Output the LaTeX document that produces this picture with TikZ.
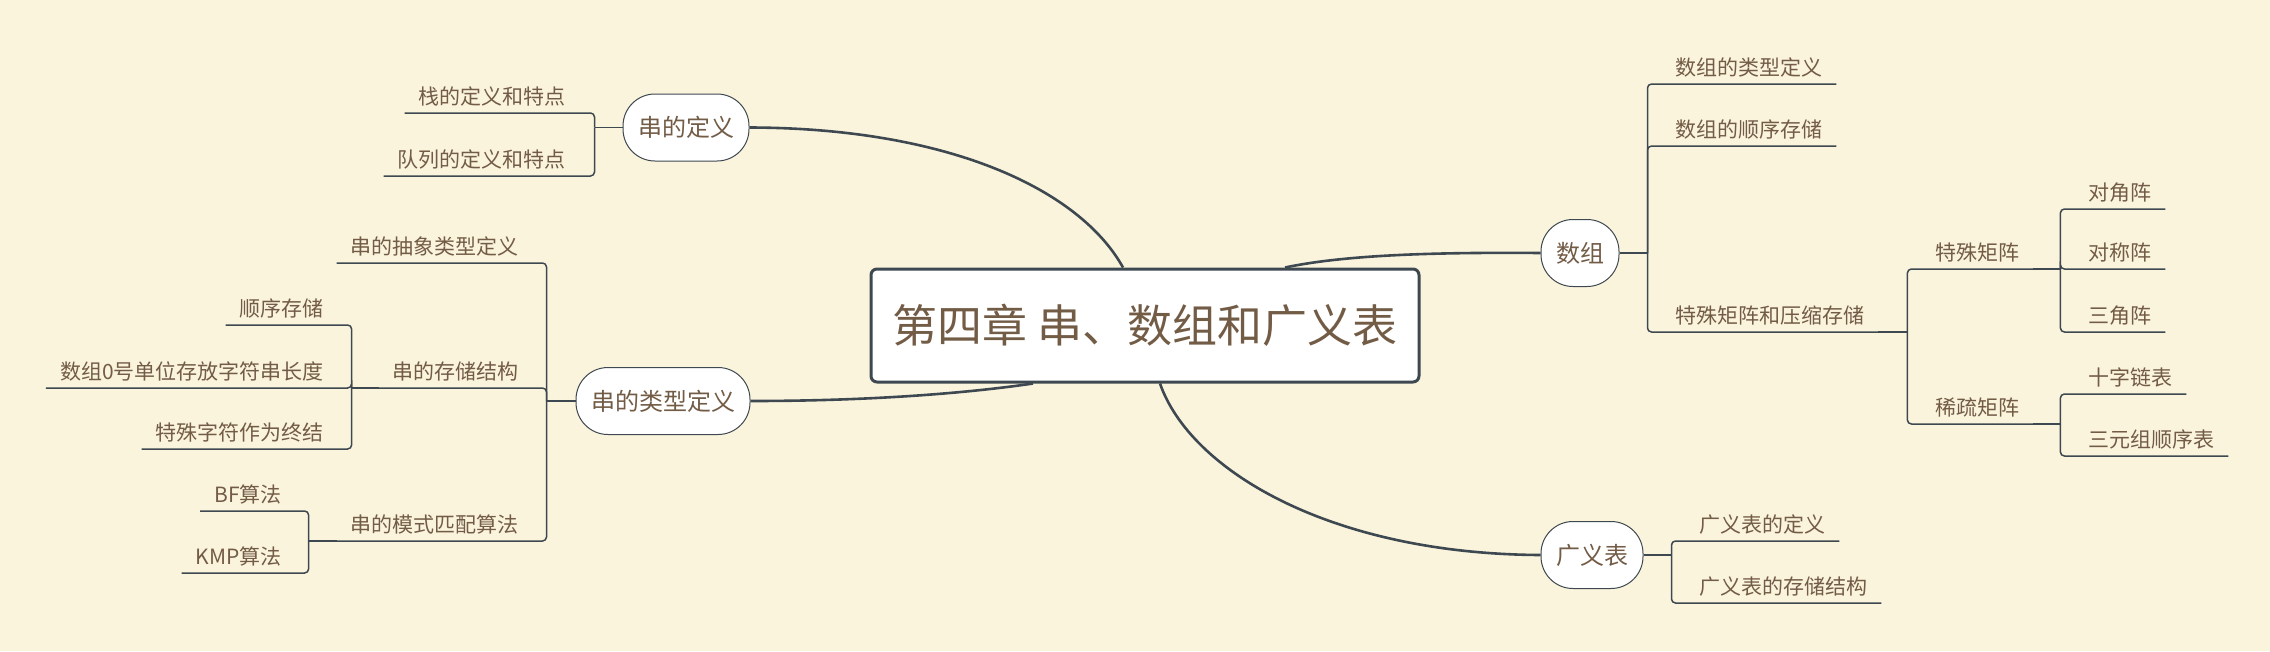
\documentclass[tikz,border=0pt]{standalone}
\usepackage{fontspec}
\usepackage{xcolor}
\usepackage{tikz}
\usetikzlibrary{
    positioning
}
\newfontfamily\cjk{Noto Sans CJK SC}
\definecolor{mindBg}{RGB}{251, 244, 221}
\definecolor{mindLine}{RGB}{62, 72, 80}
\definecolor{mindText}{RGB}{115, 92, 70}

\begin{document}
\begin{tikzpicture}[x=1pt, y=-1pt,
    topic/.style={draw=mindLine, line width=3pt, fill=white, rounded corners=6pt,
        minimum width=548pt, minimum height=113pt, text=mindText,
        font=\cjk\fontsize{45}{45}\selectfont},
    branch/.style={draw=mindLine, line width=1pt, fill=white, rounded corners=32pt,
        minimum height=67pt, inner xsep=15pt, text=mindText,
        font=\cjk\fontsize{24}{24}\selectfont},
    leaf/.style={inner xsep=14pt, inner ysep=8pt, text depth=0pt, text=mindText,
        font=\cjk\fontsize{21}{21}\selectfont},
    link/.style={draw=mindLine, line width=1.5pt, rounded corners=4pt},
    curve/.style={draw=mindLine, line width=2.6pt}]
                \fill[mindBg] (0,0) rectangle (2270,651);
                \useasboundingbox (0,0) rectangle (2270,651);

                % centre and main branches
                \node[topic] (root) at (1145,325.5) {第四章 串、数组和广义表};
                \node[branch] (d1) at (686,127.5) {串的定义};
                \node[branch] (d2) at (663,401) {串的类型定义};
                \node[branch] (a1) at (1580,253) {数组};
                \node[branch] (g1) at (1592,555) {广义表};

                \draw[curve] (d1.east) .. controls (950,128) and (1080,190) .. ([xshift=-22pt]root.north);
                \draw[curve] (d2.east) .. controls (880,401) and (975,392) .. ([xshift=-112pt]root.south);
                \draw[curve] ([xshift=140pt]root.north) .. controls (1340,256) and (1420,252) .. (a1.west);
                \draw[curve] ([xshift=15pt]root.south) .. controls (1190,470) and (1330,554) .. (g1.west);

                % 串的定义
                \coordinate[left=28pt of d1.west] (b1);
                \node[leaf, anchor=south east] (l11) at (580,113) {栈的定义和特点};
                \node[leaf, anchor=south east] (l12) at (580,176) {队列的定义和特点};
                \draw[link] (d1.west) -- (b1);
                \draw[link] (b1) |- (l11.south west);
                \draw[link] (b1) |- (l12.south west);

                % 串的类型定义
                \coordinate[left=29pt of d2.west] (b2);
                \node[leaf, anchor=south east] (l21) at (533,263) {串的抽象类型定义};
                \node[leaf, anchor=south east] (l22) at (533,388) {串的存储结构};
                \node[leaf, anchor=south east] (l23) at (533,541) {串的模式匹配算法};
                \draw[link] (d2.west) -- (b2);
                \draw[link] (b2) |- (l21.south west);
                \draw[link] (b2) |- (l22.south west);
                \draw[link] (b2) |- (l23.south west);

                \coordinate[left=27pt of l22.south west] (b22);
                \node[leaf, anchor=south east] (l221) at (338,325) {顺序存储};
                \node[leaf, anchor=south east] (l222) at (338,388) {数组0号单位存放字符串长度};
                \node[leaf, anchor=south east] (l223) at (338,449) {特殊字符作为终结};
                \draw[link] (l22.south west) -- (b22);
                \draw[link] (b22) |- (l221.south west);
                \draw[link] (b22) |- (l222.south west);
                \draw[link] (b22) |- (l223.south west);

                \coordinate[left=28pt of l23.south west] (b23);
                \node[leaf, anchor=south east] (l231) at (296,511) {BF算法};
                \node[leaf, anchor=south east] (l232) at (296,573) {KMP算法};
                \draw[link] (l23.south west) -- (b23);
                \draw[link] (b23) |- (l231.south west);
                \draw[link] (b23) |- (l232.south west);

                % 数组
                \coordinate[right=28pt of a1.east] (b3);
                \node[leaf, anchor=south west] (r1) at (1661,84) {数组的类型定义};
                \node[leaf, anchor=south west] (r2) at (1661,146) {数组的顺序存储};
                \node[leaf, anchor=south west] (r3) at (1661,332) {特殊矩阵和压缩存储};
                \draw[link] (a1.east) -- (b3);
                \draw[link] (b3) |- (r1.south east);
                \draw[link] (b3) |- (r2.south east);
                \draw[link] (b3) |- (r3.south east);

                \coordinate[right=29pt of r3.south east] (b31);
                \node[leaf, anchor=south west] (r31) at (1921,269) {特殊矩阵};
                \node[leaf, anchor=south west] (r32) at (1921,424) {稀疏矩阵};
                \draw[link] (r3.south east) -- (b31);
                \draw[link] (b31) |- (r31.south east);
                \draw[link] (b31) |- (r32.south east);

                \coordinate[right=27pt of r31.south east] (b311);
                \node[leaf, anchor=south west] (r311) at (2074,209) {对角阵};
                \node[leaf, anchor=south west] (r312) at (2074,269) {对称阵};
                \node[leaf, anchor=south west] (r313) at (2074,332) {三角阵};
                \draw[link] (r31.south east) -- (b311);
                \draw[link] (b311) |- (r311.south east);
                \draw[link] (b311) |- (r312.south east);
                \draw[link] (b311) |- (r313.south east);

                \coordinate[right=27pt of r32.south east] (b312);
                \node[leaf, anchor=south west] (r321) at (2074,394) {十字链表};
                \node[leaf, anchor=south west] (r322) at (2074,456) {三元组顺序表};
                \draw[link] (r32.south east) -- (b312);
                \draw[link] (b312) |- (r321.south east);
                \draw[link] (b312) |- (r322.south east);

                % 广义表
                \coordinate[right=28pt of g1.east] (b4);
                \node[leaf, anchor=south west] (g11) at (1685,541) {广义表的定义};
                \node[leaf, anchor=south west] (g12) at (1685,603) {广义表的存储结构};
                \draw[link] (g1.east) -- (b4);
                \draw[link] (b4) |- (g11.south east);
                \draw[link] (b4) |- (g12.south east);
            \end{tikzpicture}
\end{document}
